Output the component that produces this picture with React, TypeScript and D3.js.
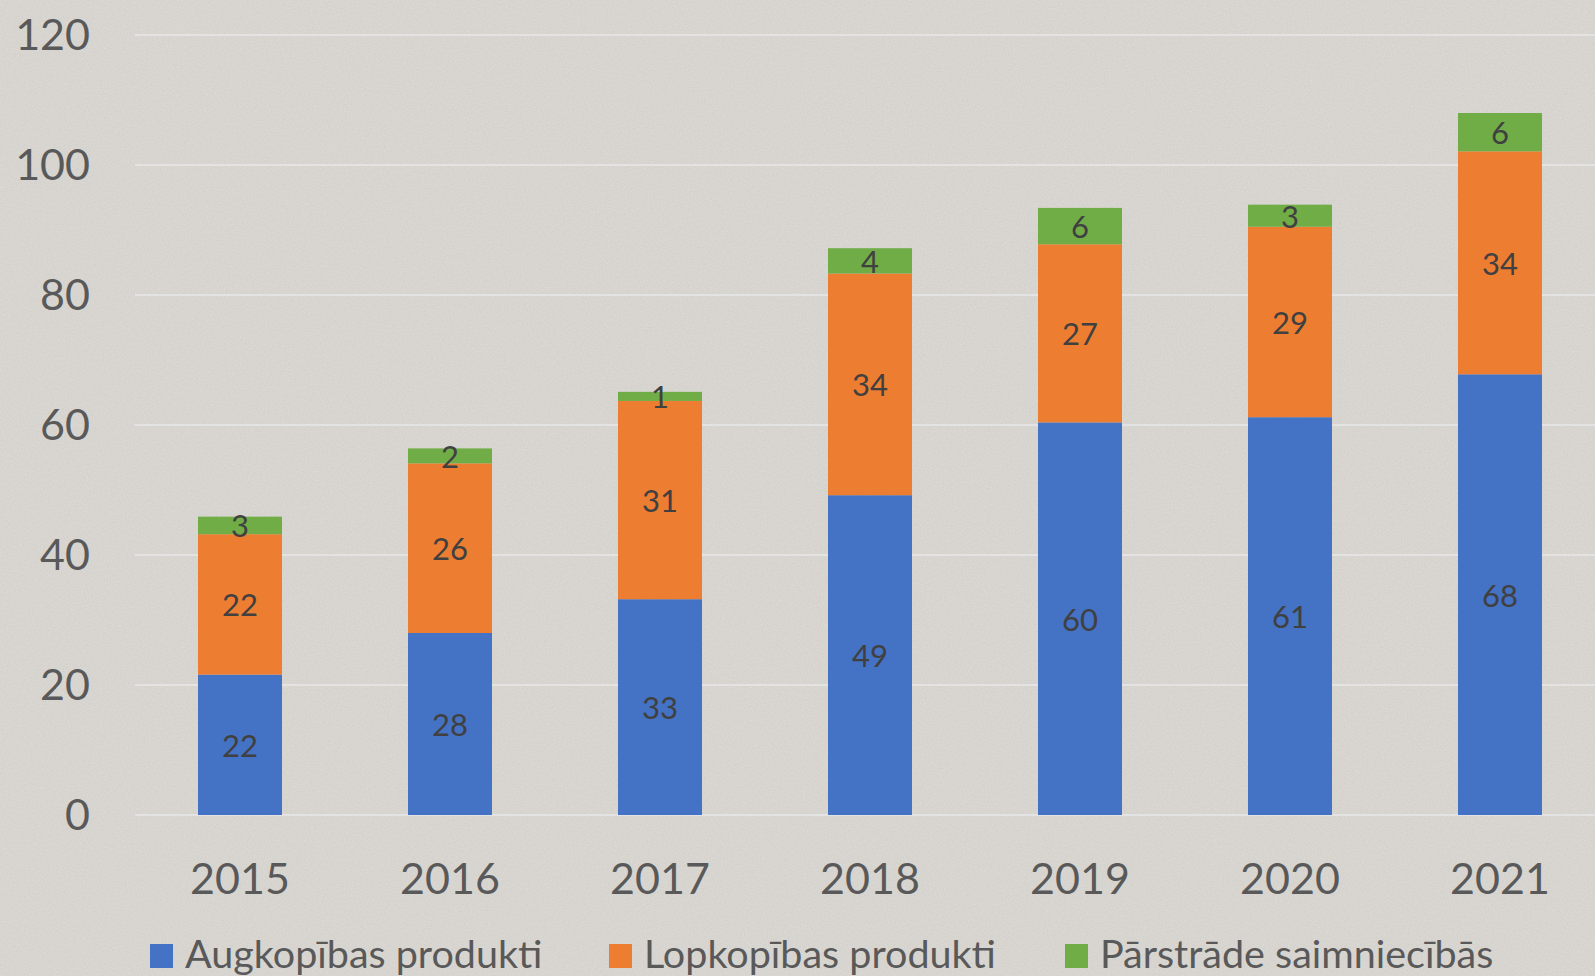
import React, { useEffect, useRef } from 'react';
import * as d3 from 'd3';

const years = ['2015', '2016', '2017', '2018', '2019', '2020', '2021'];
const augkopiba = [21.6, 28.0, 33.2, 49.2, 60.4, 61.2, 67.8];
const lopkopiba = [21.6, 26.1, 30.5, 34.1, 27.4, 29.3, 34.3];
const parstrade = [2.7, 2.3, 1.4, 3.9, 5.6, 3.4, 5.9];
const seriesNames = ['Augkopības produkti', 'Lopkopības produkti', 'Pārstrāde saimniecībās'];
const seriesColors = ['#4472c4', '#ed7d31', '#70ad47'];
const yTicks = [0, 20, 40, 60, 80, 100, 120];

const W = 1595;
const H = 976;
const FONT = 'Lato, "Open Sans", sans-serif';

const App: React.FC = () => {
  const ref = useRef<SVGSVGElement>(null);

  useEffect(() => {
    const svg = d3.select(ref.current).attr('width', W).attr('height', H);
    svg.selectAll('*').remove();

    // background with a light paper texture
    const defs = svg.append('defs');
    const f = defs.append('filter').attr('id', 'noise').attr('x', 0).attr('y', 0).attr('width', '100%').attr('height', '100%');
    f.append('feTurbulence').attr('type', 'fractalNoise').attr('baseFrequency', 0.7).attr('numOctaves', 2).attr('seed', 3);
    f.append('feColorMatrix').attr('type', 'matrix')
      .attr('values', '0 0 0 0 1  0 0 0 0 1  0 0 0 0 1  0 0 0 0.3 -0.05');
    svg.append('rect').attr('width', W).attr('height', H).attr('fill', '#d3d0cb');
    svg.append('rect').attr('width', W).attr('height', H).attr('filter', 'url(#noise)');

    const x = d3.scaleBand().domain(years).range([135, 1605]).paddingInner(0.6).paddingOuter(0.3);
    const y = d3.scaleLinear().domain([0, 120]).range([815, 35]);

    // gridlines
    svg.append('g').selectAll('line').data(yTicks).join('line')
      .attr('x1', 135).attr('x2', W)
      .attr('y1', d => y(d)).attr('y2', d => y(d))
      .attr('stroke', '#e3e3e3').attr('stroke-width', 2);

    // y labels
    svg.append('g').selectAll('text').data(yTicks).join('text')
      .attr('x', 90).attr('y', d => y(d) - 2)
      .attr('text-anchor', 'end').attr('dominant-baseline', 'central')
      .attr('font-family', FONT).attr('font-size', 43).attr('fill', '#595959')
      .text(d => d);

    // x labels
    svg.append('g').selectAll('text').data(years).join('text')
      .attr('x', d => (x(d) as number) + x.bandwidth() / 2).attr('y', 877)
      .attr('text-anchor', 'middle').attr('dominant-baseline', 'central')
      .attr('font-family', FONT).attr('font-size', 43).attr('fill', '#595959')
      .text(d => d);

    const rows = years.map((yr, i) => ({ year: yr, a: augkopiba[i], l: lopkopiba[i], p: parstrade[i] }));
    const stack = d3.stack<any>().keys(['a', 'l', 'p'])(rows);

    stack.forEach((layer, si) => {
      const g = svg.append('g');
      g.selectAll('rect').data(layer).join('rect')
        .attr('x', d => x(d.data.year) as number)
        .attr('width', x.bandwidth())
        .attr('y', d => y(d[1]))
        .attr('height', d => y(d[0]) - y(d[1]))
        .attr('fill', seriesColors[si]);
      g.selectAll('text').data(layer).join('text')
        .attr('x', d => (x(d.data.year) as number) + x.bandwidth() / 2)
        .attr('y', d => (y(d[0]) + y(d[1])) / 2)
        .attr('text-anchor', 'middle').attr('dominant-baseline', 'central')
        .attr('font-family', FONT).attr('font-size', 31).attr('fill', '#404040')
        .text(d => Math.round(d[1] - d[0]));
    });

    // legend
    const legendX = [150, 609, 1065];
    const lg = svg.append('g');
    seriesNames.forEach((name, i) => {
      lg.append('rect').attr('x', legendX[i]).attr('y', 944).attr('width', 23).attr('height', 24)
        .attr('fill', seriesColors[i]);
      lg.append('text').attr('x', legendX[i] + 35).attr('y', 968)
        .attr('font-family', FONT).attr('font-size', 39.5).attr('fill', '#595959')
        .text(name);
    });
  }, []);

  return (
    <div style={{ position: 'absolute', left: 0, top: 0 }}>
      <svg ref={ref} style={{ display: 'block' }}></svg>
    </div>
  );
};

export default App;
